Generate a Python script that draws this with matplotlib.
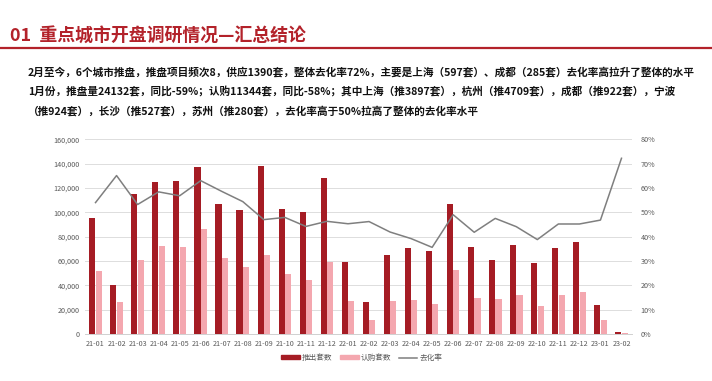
import matplotlib
matplotlib.use("Agg")
import matplotlib.pyplot as plt
from matplotlib.ticker import FuncFormatter, MultipleLocator
from matplotlib.lines import Line2D
from matplotlib.patches import Patch
import numpy as np

plt.rcParams['font.family'] = ['Noto Sans CJK SC', 'DejaVu Sans']

categories = ["21-01", "21-02", "21-03", "21-04", "21-05", "21-06", "21-07", "21-08",
              "21-09", "21-10", "21-11", "21-12", "22-01", "22-02", "22-03", "22-04",
              "22-05", "22-06", "22-07", "22-08", "22-09", "22-10", "22-11", "22-12",
              "23-01", "23-02"]
supply = [95600, 40500, 115000, 125000, 125500, 137000, 106800, 101900,
          138400, 103000, 100300, 128000, 58900, 26000, 64700, 70700,
          68500, 106800, 71800, 60500, 73200, 58400, 71000, 75300,
          24132, 1390]
subscribed = [51500, 26300, 61100, 72600, 71200, 86300, 62700, 55300,
              65000, 49600, 44400, 59200, 26800, 11800, 26800, 27700,
              24400, 52600, 29900, 28800, 32300, 22700, 32000, 34200,
              11344, 1000]
rate = [54.0, 65.1, 53.2, 58.4, 56.8, 63.0, 58.6, 54.4,
        47.0, 47.9, 44.2, 46.3, 45.3, 46.2, 41.9, 39.2,
        35.6, 49.0, 41.8, 47.5, 44.1, 38.8, 45.2, 45.2,
        46.8, 72.2]
legend_labels = ["推出套数", "认购套数", "去化率"]

title = "01  重点城市开盘调研情况—汇总结论"
body_lines = [
    "2月至今，6个城市推盘，推盘项目频次8，供应1390套，整体去化率72%，主要是上海（597套）、成都（285套）去化率高拉升了整体的水平",
    "1月份，推盘量24132套，同比-59%；认购11344套，同比-58%；其中上海（推3897套），杭州（推4709套），成都（推922套），宁波",
    "（推924套），长沙（推527套），苏州（推280套），去化率高于50%拉高了整体的去化率水平",
]

RED = "#A51C24"
PINK = "#F4A7AF"
GRAY = "#7F7F7F"
TITLE_RED = "#B3222A"

W, H = 712, 381
fig = plt.figure(figsize=(W / 100, H / 100), dpi=100)
fig.patch.set_facecolor("white")

# Title and rule
fig.text(10 / W, 1 - 36 / H, title, fontsize=12.9, fontweight="bold", color=TITLE_RED,
         va="center", ha="left")
fig.add_artist(Line2D([0, 1], [1 - 48 / H, 1 - 48 / H], transform=fig.transFigure,
                      color=TITLE_RED, lw=1.6))

# Body text
ys = [72, 92.5, 111.5]
for txt, y in zip(body_lines, ys):
    fig.text(28 / W, 1 - y / H, txt, fontsize=7.65, fontweight="bold", color="#111111",
             va="center", ha="left")

# Chart
ax = fig.add_axes([85 / W, 1 - 334 / H, (632 - 85) / W, (334 - 139.3) / H])
x = np.arange(len(categories))
bw = 0.29
ax.bar(x - bw / 2 - 0.01, supply, width=bw, color=RED, zorder=3)
ax.bar(x + bw / 2 + 0.01, subscribed, width=bw, color=PINK, zorder=3)
ax.set_ylim(0, 160000)
ax.set_xlim(-0.5, len(categories) - 0.5)
ax.yaxis.set_major_locator(MultipleLocator(20000))
ax.yaxis.set_major_formatter(FuncFormatter(lambda v, p: f"{int(v):,}"))
ax.set_xticks(x)
ax.set_xticklabels(categories)
ax.grid(axis="y", color="#DDDDDD", lw=0.7, zorder=0)
for s in ["top", "right", "left"]:
    ax.spines[s].set_visible(False)
ax.spines["bottom"].set_color("#D0D0D0")
ax.spines["bottom"].set_linewidth(0.7)
ax.tick_params(axis="both", length=0, labelsize=5.2, colors="#595959", pad=4)

ax2 = ax.twinx()
ax2.plot(x, rate, color=GRAY, lw=1.1, zorder=4)
ax2.set_ylim(0, 80)
ax2.yaxis.set_major_locator(MultipleLocator(10))
ax2.yaxis.set_major_formatter(FuncFormatter(lambda v, p: f"{int(v)}%"))
for s in ["top", "right", "left", "bottom"]:
    ax2.spines[s].set_visible(False)
ax2.tick_params(axis="y", length=0, labelsize=5.2, colors="#595959", pad=6)

handles = [Patch(color=RED), Patch(color=PINK), Line2D([0], [0], color=GRAY, lw=1.1)]
fig.legend(handles, legend_labels, loc="center", bbox_to_anchor=(362 / W, 1 - 358 / H),
           ncol=3, frameon=False, fontsize=5.5, handlelength=2.4, handleheight=0.5,
           handletextpad=0.3, columnspacing=1.0, labelcolor="#595959")

fig.savefig("out.png", dpi=100, facecolor="white")
